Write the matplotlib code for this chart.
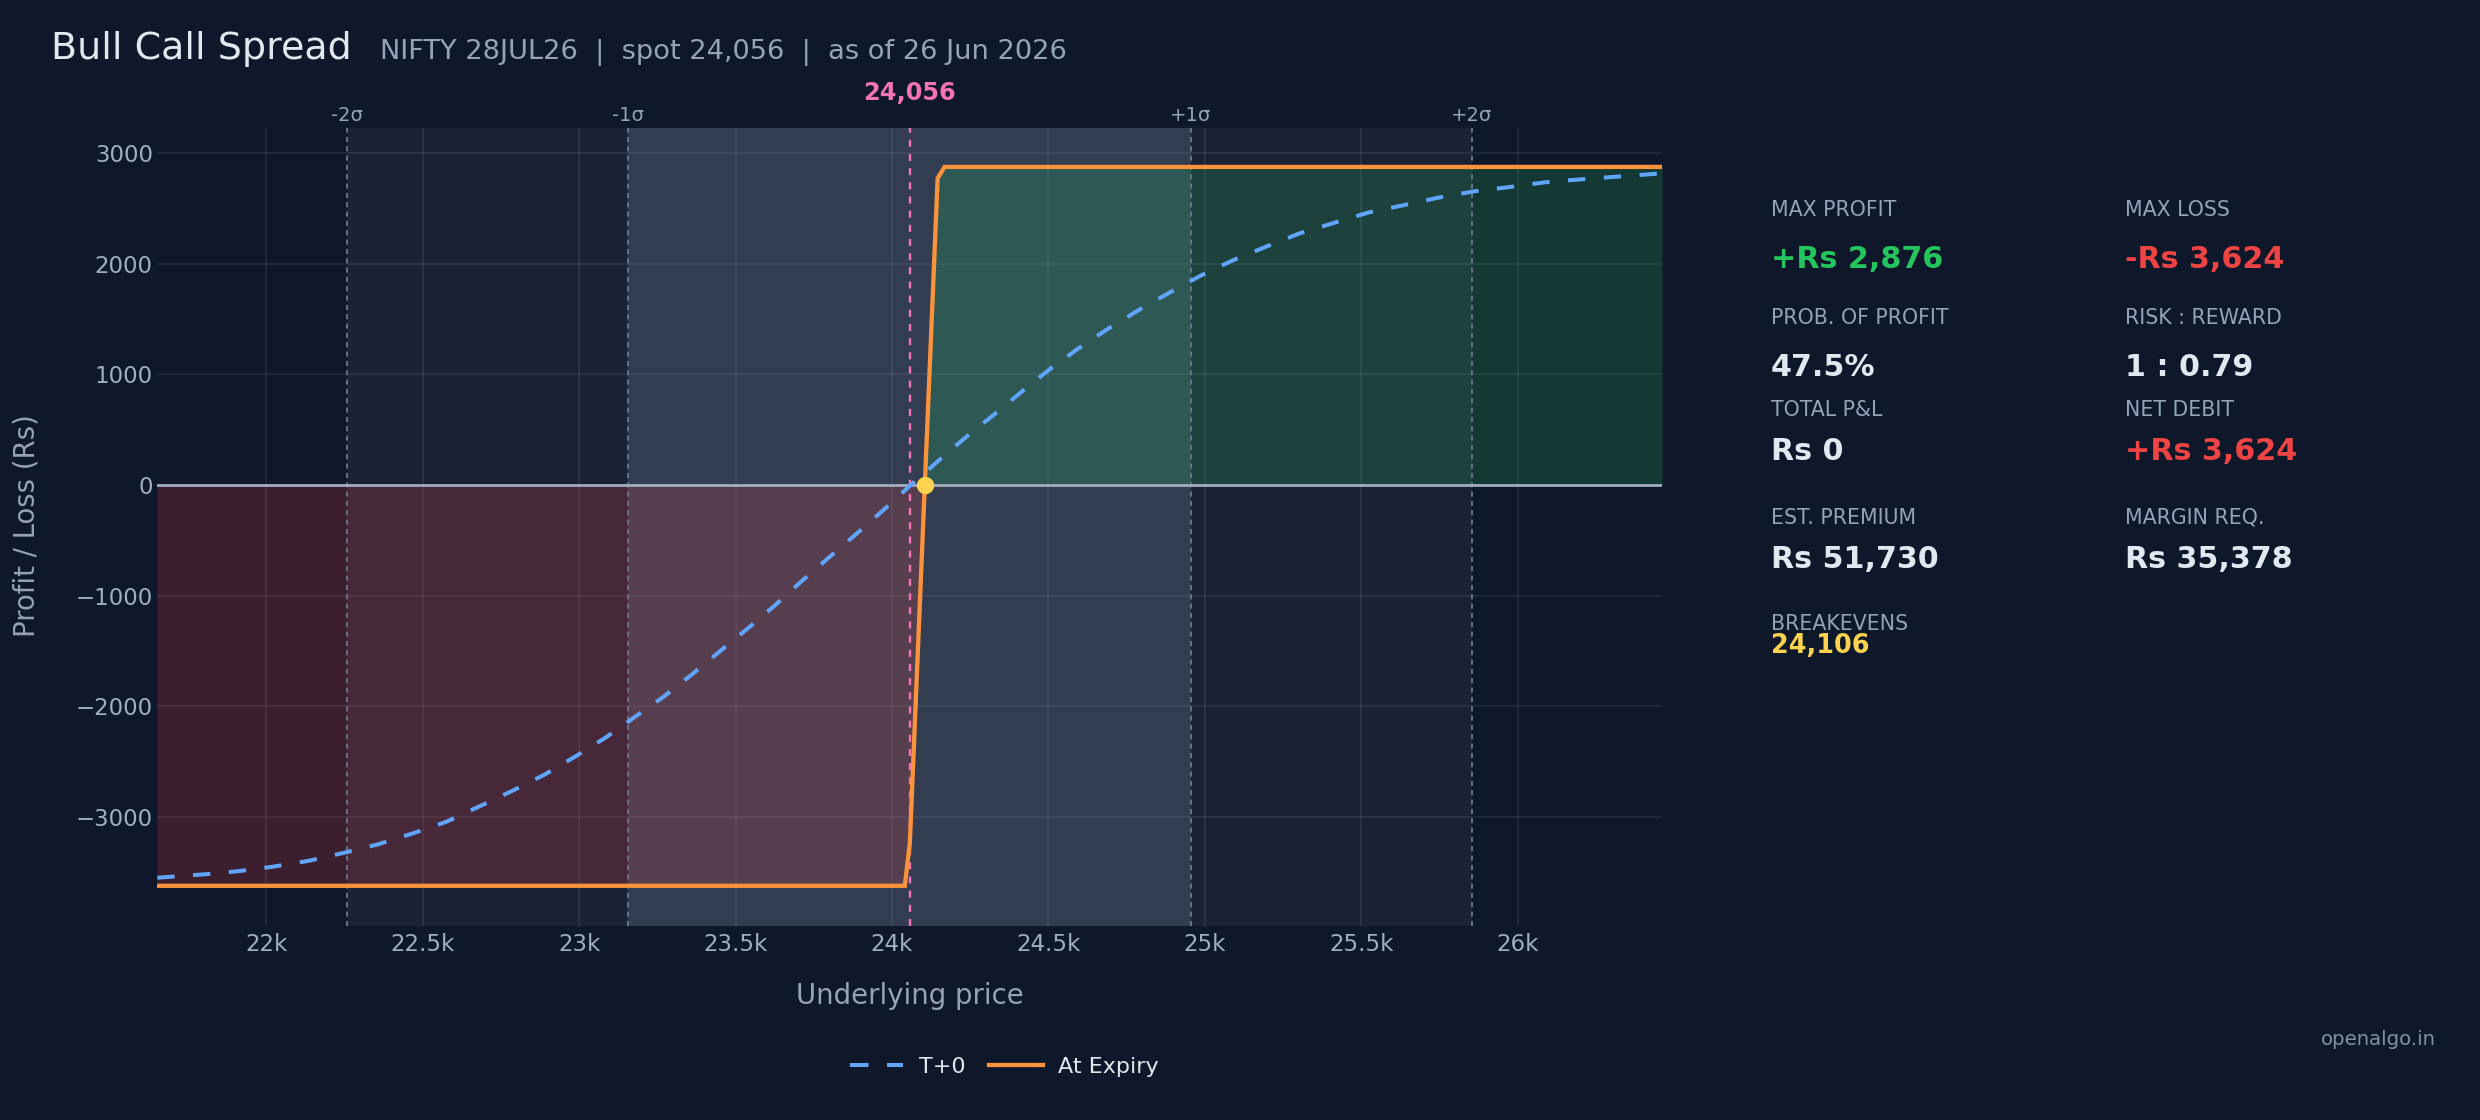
import matplotlib
matplotlib.use("Agg")
import matplotlib.pyplot as plt
from matplotlib.lines import Line2D
from matplotlib.ticker import FixedLocator, FixedFormatter
import numpy as np

plt.rcParams['font.family'] = ['DejaVu Sans']

# ---------------- data ----------------
TITLE = "Bull Call Spread"
SUBTITLE = "NIFTY 28JUL26  |  spot 24,056  |  as of 26 Jun 2026"
SPOT = 24056
SPOT_LABEL = "24,056"
SIGMA_LEVELS = [22258, 23157, 24955, 25853]
SIGMA_LABELS = ["-2\u03c3", "-1\u03c3", "+1\u03c3", "+2\u03c3"]
BREAKEVEN = 24106
X_RANGE = [21650, 26462]
Y_RANGE = [-3983, 3228]

X_TICKS = [22000, 22500, 23000, 23500, 24000, 24500, 25000, 25500, 26000]
X_TICK_LABELS = ["22k", "22.5k", "23k", "23.5k", "24k", "24.5k", "25k", "25.5k", "26k"]
Y_TICKS = [-3000, -2000, -1000, 0, 1000, 2000, 3000]

T0_X = [21651, 21794, 21910, 22021, 22135, 22246, 22357, 22468, 22576, 22683,
        22787, 22887, 22987, 23086, 23179, 23273, 23362, 23452, 23538, 23627,
        23713, 23800, 23887, 23974, 24060, 24144, 24233, 24322, 24411, 24501,
        24592, 24688, 24789, 24887, 24987, 25090, 25196, 25304, 25412, 25526,
        25634, 25747, 25860, 25974, 26088, 26203, 26318, 26461]
T0_Y = [-3551, -3522, -3492, -3451, -3398, -3327, -3249, -3150, -3044, -2903,
        -2764, -2622, -2456, -2281, -2095, -1908, -1709, -1498, -1299, -1085,
        -865, -651, -440, -223, 0, 208, 425, 627, 835, 1040,
        1227, 1408, 1582, 1739, 1893, 2032, 2155, 2276, 2369, 2466,
        2529, 2598, 2655, 2694, 2737, 2764, 2788, 2818]

EXP_X = [21650, 24041, 24057, 24146, 24168, 26462]
EXP_Y = [-3624, -3624, -3240, 2773, 2876, 2876]

STAT_LABELS = ["MAX PROFIT", "MAX LOSS", "PROB. OF PROFIT", "RISK : REWARD",
               "TOTAL P&L", "NET DEBIT", "EST. PREMIUM", "MARGIN REQ."]
STAT_VALUES = ["+Rs 2,876", "-Rs 3,624", "47.5%", "1 : 0.79",
               "Rs 0", "+Rs 3,624", "Rs 51,730", "Rs 35,378"]
STAT_COLORS = ["#22c55e", "#ef4444", "#e2e8f0", "#e2e8f0",
               "#e2e8f0", "#ef4444", "#e2e8f0", "#e2e8f0"]
BE_LABEL = "BREAKEVENS"
BE_VALUE = "24,106"
WATERMARK = "openalgo.in"

# ---------------- style ----------------
W, H = 2480, 1120
BG = "#0f172a"
MUTED = "#94a3b8"
TEXT = "#e2e8f0"

fig = plt.figure(figsize=(W / 100, H / 100), dpi=100, facecolor=BG)


def fx(x):
    return x / W


def fy(y):
    return 1 - y / H


PLOT_TOP, PLOT_BOTTOM = 128, 925.5
ax = fig.add_axes([fx(157), fy(PLOT_BOTTOM), fx(1662) - fx(157), fy(PLOT_TOP) - fy(PLOT_BOTTOM)])
ax.set_facecolor(BG)
ax.set_xlim(*X_RANGE)
ax.set_ylim(*Y_RANGE)
for s in ax.spines.values():
    s.set_visible(False)

# sigma bands
ax.axvspan(SIGMA_LEVELS[0], SIGMA_LEVELS[3], color="#1c2236", zorder=0, lw=0)
ax.axvspan(SIGMA_LEVELS[1], SIGMA_LEVELS[2], color="#323d52", zorder=0.1, lw=0)

# ticks / grid
ax.xaxis.set_major_locator(FixedLocator(X_TICKS))
ax.xaxis.set_major_formatter(FixedFormatter(X_TICK_LABELS))
ax.yaxis.set_major_locator(FixedLocator(Y_TICKS))
ax.yaxis.set_major_formatter(FixedFormatter([f"{v:d}".replace("-", "\u2212") for v in Y_TICKS]))
ax.grid(True, color=MUTED, alpha=0.15, lw=1.2, zorder=0.5)
ax.set_axisbelow(True)
ax.tick_params(axis="both", length=0, labelsize=16.5, labelcolor="#a0aec0")
ax.tick_params(axis="x", pad=5.5)
ax.tick_params(axis="y", pad=3)

# fills
ex = np.array(EXP_X, dtype=float)
ey = np.array(EXP_Y, dtype=float)
ax.fill_between(ex, ey, 0, where=ey <= 0, interpolate=True, color="#ef4444",
                alpha=0.2, lw=0, zorder=1)
ax.fill_between(ex, ey, 0, where=ey >= 0, interpolate=True, color="#22c55e",
                alpha=0.2, lw=0, zorder=1)

# sigma lines + labels
lab_off = 7 / (PLOT_BOTTOM - PLOT_TOP)
for lvl, lab in zip(SIGMA_LEVELS, SIGMA_LABELS):
    ax.axvline(lvl, color="#64748b", lw=1.4, ls=(0, (2.6, 2.2)), zorder=1.5)
    ax.text(lvl, 1.0 + lab_off, lab, transform=ax.get_xaxis_transform(), ha="center",
            va="baseline", fontsize=14, color=MUTED)

# zero line
ax.axhline(0, color="#a3adbd", lw=2.0, zorder=2)

# spot line
ax.axvline(SPOT, color="#f472b6", lw=1.7, ls=(0, (3, 3)), zorder=2.5)
fig.text(fx(909.5), fy(100), SPOT_LABEL, ha="center", va="baseline",
         fontsize=17.3, fontweight="bold", color="#f472b6")

# curves
ax.plot(T0_X, T0_Y, color="#60a5fa", lw=2.9, ls=(0, (4.3, 4.6)), zorder=3,
        dash_capstyle="butt")
ax.plot(EXP_X, EXP_Y, color="#fb923c", lw=3.1, zorder=4, solid_joinstyle="miter")
ax.plot([BREAKEVEN], [0], "o", ms=11.5, color="#fcd34d", mec="#fcd34d", zorder=5)

# axis labels
fig.text(fx(909.5), fy(996), "Underlying price", ha="center", va="center",
         fontsize=19.8, color=MUTED)
fig.text(fx(27), fy(526), "Profit / Loss (Rs)", ha="center", va="center",
         rotation=90, fontsize=19.8, color=MUTED)

# title
fig.text(fx(51), fy(59), TITLE, ha="left", va="baseline", fontsize=27.4,
         color=TEXT)
fig.text(fx(380), fy(59), SUBTITLE, ha="left", va="baseline", fontsize=19.6,
         color=MUTED)

# stats panel
col_x = [1770.7, 2125]
label_y = [216, 324.3, 416, 524]
value_y = [268.3, 376, 460, 567.7]
for i, (lab, val, col) in enumerate(zip(STAT_LABELS, STAT_VALUES, STAT_COLORS)):
    r, c = divmod(i, 2)
    fig.text(fx(col_x[c]), fy(label_y[r]), lab, ha="left", va="baseline",
             fontsize=14.8, color=MUTED)
    fig.text(fx(col_x[c]), fy(value_y[r]), val, ha="left", va="baseline",
             fontsize=21.7, fontweight="bold", color=col)
fig.text(fx(col_x[0]), fy(630), BE_LABEL, ha="left", va="baseline",
         fontsize=14.8, color=MUTED)
fig.text(fx(col_x[0]), fy(653.3), BE_VALUE, ha="left", va="baseline",
         fontsize=18.4, fontweight="bold", color="#fcd34d")

# legend
handles = [
    Line2D([], [], color="#60a5fa", lw=2.9, ls=(0, (4.6, 4.6))),
    Line2D([], [], color="#fb923c", lw=3.1),
]
leg = fig.legend(handles, ["T+0", "At Expiry"], loc="center",
                 bbox_to_anchor=(fx(1004.5), fy(1066.7)), ncol=2, frameon=False,
                 fontsize=16, handlelength=2.4, handletextpad=0.72,
                 columnspacing=1.05, borderpad=0, borderaxespad=0)
for t in leg.get_texts():
    t.set_color(TEXT)

fig.text(fx(2436), fy(1045), WATERMARK, ha="right", va="baseline",
         fontsize=14.2, color="#8290a6")

fig.savefig("out.png", dpi=100, facecolor=BG)
